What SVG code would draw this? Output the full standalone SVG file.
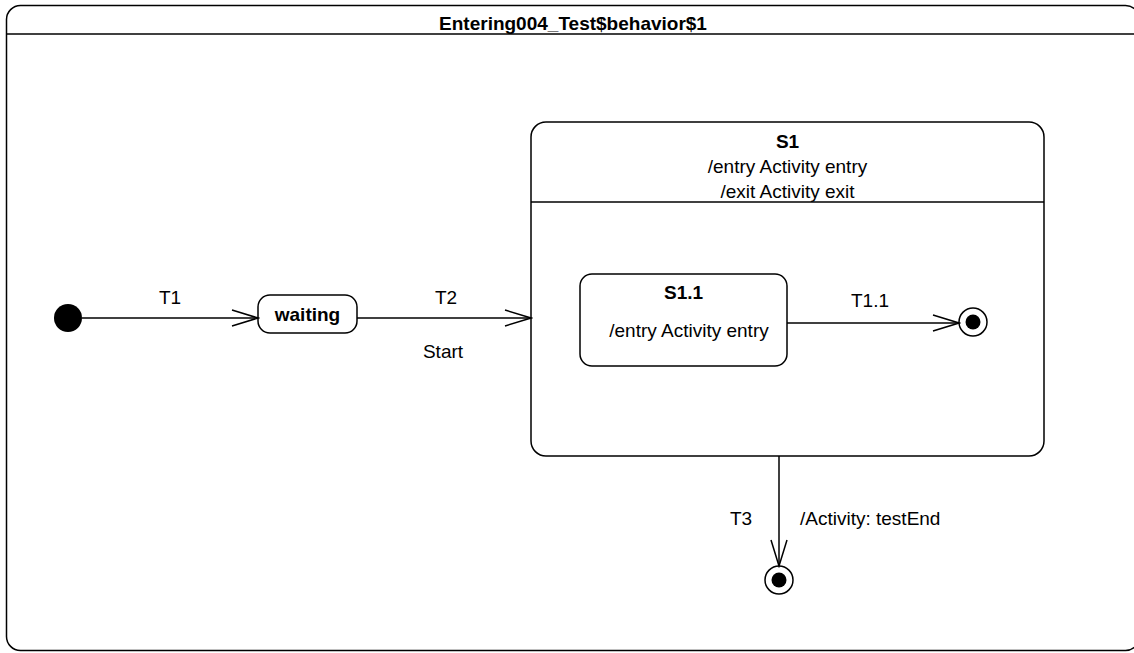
<svg xmlns="http://www.w3.org/2000/svg" width="1134" height="653" viewBox="0 0 1134 653">
<style>
.box{fill:#fff;stroke:#000;stroke-width:1.5}
.ln{fill:none;stroke:#000;stroke-width:1.5}
.t{font-family:"Liberation Sans",Arial,sans-serif;font-size:19px;fill:#000}
.b{font-weight:bold}
.m{text-anchor:middle}
</style>
<defs>
<marker id="open" viewBox="0 0 30 20" refX="28" refY="10" markerWidth="30" markerHeight="20" markerUnits="userSpaceOnUse" orient="auto">
<path d="M2,2 L28,10 L2,18" fill="none" stroke="#000" stroke-width="1.5"/>
</marker>
</defs>
<g id="frame">
<rect class="box" x="6.5" y="5.5" width="1133" height="645" rx="14"/>
<line class="ln" x1="6.5" y1="34" x2="1134" y2="34"/>
<text class="t b m" x="573" y="30">Entering004_Test$behavior$1</text>
</g>
<g id="initial"><circle cx="68" cy="318" r="14" fill="#000"/></g>
<g id="waiting">
<rect class="box" x="258" y="295" width="99" height="38" rx="12"/>
<text class="t b m" x="307.5" y="321">waiting</text>
</g>
<g id="S1">
<rect class="box" x="531" y="122" width="513" height="334" rx="15"/>
<line class="ln" x1="531" y1="202" x2="1044" y2="202"/>
<text class="t b m" x="787.5" y="148">S1</text>
<text class="t m" x="787.5" y="173">/entry Activity entry</text>
<text class="t m" x="787.5" y="198">/exit Activity exit</text>
</g>
<g id="S1_1">
<rect class="box" x="580" y="274" width="207" height="92" rx="12"/>
<text class="t b m" x="683.5" y="299">S1.1</text>
<text class="t m" x="689" y="337">/entry Activity entry</text>
</g>
<g id="final1">
<circle cx="973" cy="322" r="14" fill="#fff" stroke="#000" stroke-width="1.5"/>
<circle cx="973" cy="322" r="7.5" fill="#000"/>
</g>
<g id="final2">
<circle cx="779" cy="580" r="14" fill="#fff" stroke="#000" stroke-width="1.5"/>
<circle cx="779" cy="580" r="7.5" fill="#000"/>
</g>
<g id="connectors">
<line class="ln" x1="82" y1="318" x2="258" y2="318" marker-end="url(#open)"/>
<text class="t m" x="170" y="304">T1</text>
<line class="ln" x1="357" y1="318" x2="531" y2="318" marker-end="url(#open)"/>
<text class="t m" x="446" y="304">T2</text>
<text class="t m" x="443" y="358">Start</text>
<line class="ln" x1="787" y1="323" x2="959" y2="323" marker-end="url(#open)"/>
<text class="t m" x="870" y="307">T1.1</text>
<line class="ln" x1="779" y1="456" x2="779" y2="566" marker-end="url(#open)"/>
<text class="t m" x="741" y="525">T3</text>
<text class="t" x="800" y="525">/Activity: testEnd</text>
</g>
</svg>
